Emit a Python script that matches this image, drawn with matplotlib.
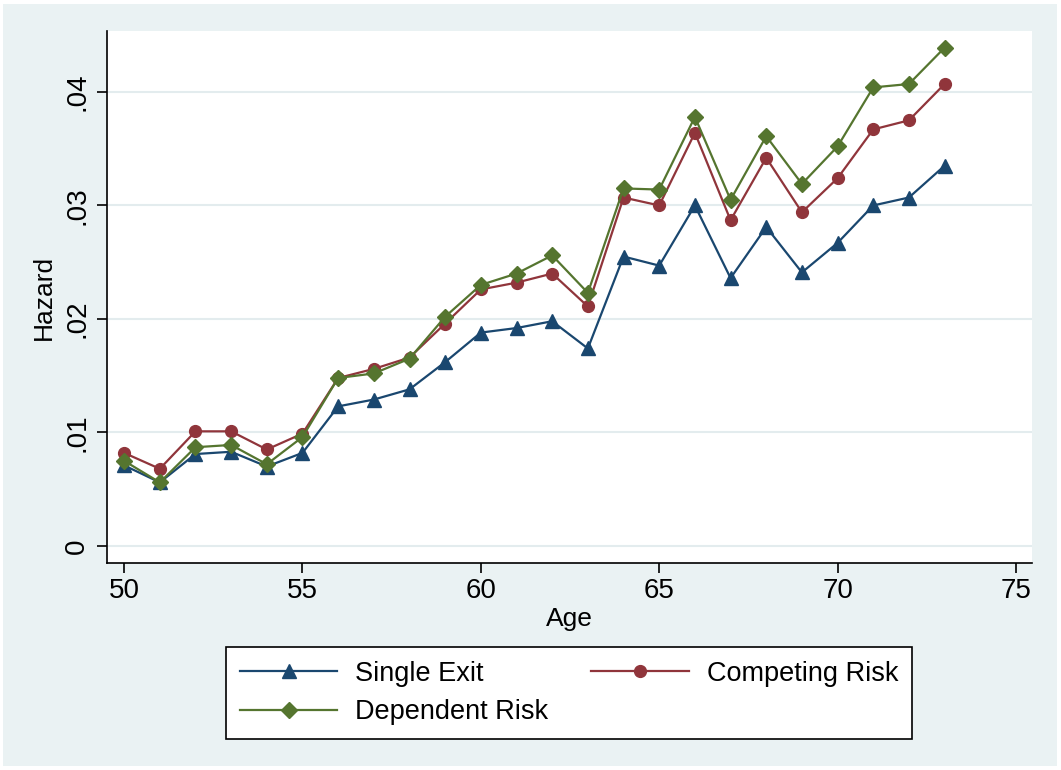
import matplotlib.pyplot as plt
from matplotlib.patches import Rectangle
from matplotlib.ticker import FuncFormatter

plt.rcParams['font.family'] = ['Liberation Sans', 'DejaVu Sans']

# data
age = list(range(50, 74))
single_exit = [0.0071, 0.0056, 0.0081, 0.0083, 0.0070, 0.0082, 0.0123, 0.0129, 0.0138, 0.0162,
               0.0188, 0.0192, 0.0198, 0.0174, 0.0255, 0.0247, 0.0300, 0.0236, 0.0281, 0.0241,
               0.0267, 0.0300, 0.0307, 0.0335]
competing_risk = [0.0082, 0.0068, 0.0101, 0.0101, 0.0085, 0.0099, 0.0148, 0.0156, 0.0166, 0.0196,
                  0.0226, 0.0232, 0.0240, 0.0211, 0.0307, 0.0300, 0.0364, 0.0287, 0.0342, 0.0294,
                  0.0324, 0.0367, 0.0375, 0.0407]
dependent_risk = [0.0075, 0.0056, 0.0087, 0.0089, 0.0072, 0.0096, 0.0148, 0.0152, 0.0165, 0.0202,
                  0.0230, 0.0240, 0.0256, 0.0223, 0.0315, 0.0314, 0.0378, 0.0305, 0.0361, 0.0319,
                  0.0352, 0.0404, 0.0407, 0.0439]
xticks = [50, 55, 60, 65, 70, 75]
yticks = [0, 0.01, 0.02, 0.03, 0.04]

NAVY = '#1A476F'
MAROON = '#90353B'
GREEN = '#55752F'
BG = '#EAF2F3'

fig = plt.figure(figsize=(10.61, 7.70), dpi=100, facecolor='white')
fig.patches.append(Rectangle((3 / 1061, 4 / 770), 1054 / 1061, 762 / 770,
                             transform=fig.transFigure, facecolor=BG, edgecolor='none', zorder=-10))
ax = fig.add_axes([107 / 1061, 1 - 563 / 770, 925 / 1061, 532 / 770])
ax.set_facecolor('white')

l1, = ax.plot(age, single_exit, '-^', color=NAVY, lw=1.6, ms=9.5, label='Single Exit', zorder=3)
l2, = ax.plot(age, competing_risk, '-o', color=MAROON, lw=1.6, ms=8.5, label='Competing Risk', zorder=4)
l3, = ax.plot(age, dependent_risk, '-D', color=GREEN, lw=1.6, ms=8, label='Dependent Risk', zorder=5)

ax.set_xlim(49.52, 75.45)
ax.set_ylim(-0.0015, 0.04537)
ax.set_xticks(xticks)
ax.set_yticks(yticks)
ax.yaxis.set_major_formatter(FuncFormatter(lambda v, p: '0' if v == 0 else f'{v:.2f}'.lstrip('0')))
ax.tick_params(axis='both', labelsize=20, length=7, width=1.2, color='black')
ax.tick_params(axis='y', labelrotation=90, pad=5)
ax.tick_params(axis='x', pad=4)
for lab in ax.get_yticklabels():
    lab.set_va('center')
ax.grid(axis='y', color='#E3ECEE', lw=1.5)
ax.set_axisbelow(True)
for s in ['top', 'right']:
    ax.spines[s].set_visible(False)
for s in ['left', 'bottom']:
    ax.spines[s].set_linewidth(1.2)

ax.set_xlabel('Age', fontsize=19, labelpad=2)
ax.set_ylabel('Hazard', fontsize=19, labelpad=6)

leg = fig.legend(handles=[l1, l3, l2], ncol=2, loc='center',
                 bbox_to_anchor=(569 / 1061, 1 - 693 / 770), fontsize=19.5,
                 frameon=True, fancybox=False, edgecolor='black', framealpha=1,
                 handlelength=3.6, columnspacing=1.6, labelspacing=0.45,
                 borderpad=0.5, handletextpad=0.65, borderaxespad=0)
leg.get_frame().set_linewidth(1.2)

fig.savefig('out.png', dpi=100, facecolor='white')
